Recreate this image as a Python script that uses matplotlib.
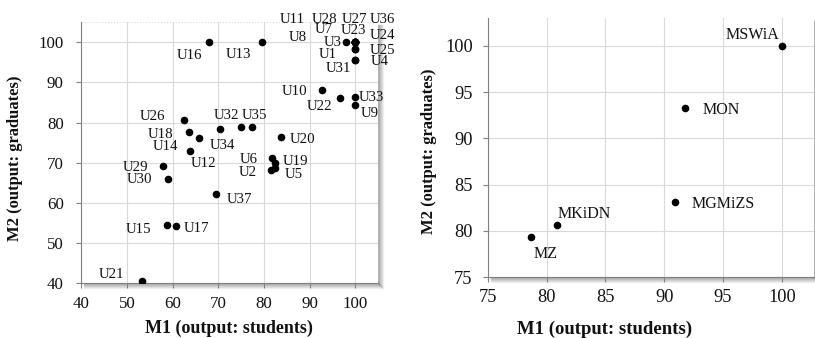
import matplotlib
matplotlib.use("Agg")
import matplotlib.pyplot as plt
from matplotlib.lines import Line2D

plt.rcParams['font.family'] = ['Liberation Serif', 'DejaVu Serif']

# ---- Left chart data (units) ----
units = ["U1", "U2", "U3", "U4", "U5", "U6", "U7", "U8", "U9", "U10",
         "U11", "U12", "U13", "U14", "U15", "U16", "U17", "U18", "U19", "U20",
         "U21", "U22", "U23", "U24", "U25", "U26", "U27", "U28", "U29", "U30",
         "U31", "U32", "U33", "U34", "U35", "U36", "U37"]
m1_units = [100, 81.5, 98, 100, 82.3, 81.7, 100, 100, 100, 92.6,
            100, 65.8, 79.6, 63.7, 58.8, 67.9, 60.8, 63.5, 82.4, 83.7,
            53.3, 96.6, 100, 100, 100, 62.4, 100, 100, 57.9, 58.9,
            100, 75.0, 100, 70.4, 77.4, 100, 69.4]
m2_units = [98.3, 68.2, 100, 95.6, 68.7, 71.1, 100, 100, 84.5, 88.1,
            100, 76.2, 100, 73.0, 54.5, 100, 54.2, 77.6, 70.0, 76.3,
            40.5, 86.1, 100, 100, 98.3, 80.7, 100, 100, 69.3, 66.0,
            95.6, 78.9, 86.3, 78.5, 78.9, 100, 62.3]

# ---- Right chart data (ministries) ----
ministries = ["MSWiA", "MON", "MGMiZS", "MKiDN", "MZ"]
m1_min = [100, 91.8, 90.9, 80.9, 78.65]
m2_min = [100, 93.3, 83.1, 80.7, 79.35]

x_ticks_left = [40, 50, 60, 70, 80, 90, 100]
y_ticks_left = [40, 50, 60, 70, 80, 90, 100]
x_ticks_right = [75, 80, 85, 90, 95, 100]
y_ticks_right = [75, 80, 85, 90, 95, 100]

x_title = "M1 (output: students)"
y_title = "M2 (output: graduates)"

# label offsets in pixels (dx right, dy up) -- styling
off_units = {
    "U16": (-19, -13), "U13": (-24, -12), "U3": (-13, 0), "U8": (-58, 5),
    "U11": (-63, 23), "U28": (-31, 23), "U27": (-1, 23), "U36": (27, 23),
    "U7": (-32, 13), "U23": (-2, 12), "U24": (27, 7), "U25": (27, -1),
    "U1": (-28, -5), "U4": (24, -2), "U31": (-17, -9), "U10": (-27, -1),
    "U22": (-20, -8), "U33": (16, 0), "U9": (14, -9), "U26": (-31, 3),
    "U32": (-15, 12), "U35": (2, 12), "U18": (-28, -2), "U34": (2, -17),
    "U20": (22, -2), "U14": (-24, 4), "U12": (4, -26), "U29": (-28, -2),
    "U30": (-28, -1), "U6": (-23, -1), "U19": (21, 1), "U2": (-23, -2),
    "U5": (19, -6), "U37": (24, -6), "U15": (-29, -4), "U17": (20, -2),
    "U21": (-30, 7),
}
off_min = {"MSWiA": (-29, 11), "MON": (36, -2), "MGMiZS": (48, -2),
           "MKiDN": (27, 11), "MZ": (15, -17)}

W, H = 815, 338
fig = plt.figure(figsize=(W / 100, H / 100), dpi=100)

grid_c = "#d9d9d9"
spine_c = "#808080"
txt_c = "#111111"


def px_axes(l, t, r, b):
    return fig.add_axes([l / W, (H - b) / H, (r - l) / W, (b - t) / H])


def fig_text(x, y, s, **kw):
    fig.text(x / W, (H - y) / H, s, ha="center", va="center",
             color=txt_c, fontweight="bold", **kw)


def shadow(l, t, r, b):
    # soft drop shadow on right and bottom edges (decoration)
    for i in range(6):
        a = 0.28 * (1 - i / 6)
        fig.add_artist(Line2D([(r + i) / W, (r + i) / W],
                              [(H - b - i) / H, (H - t - 3) / H],
                              transform=fig.transFigure, color="black",
                              alpha=a, lw=1, zorder=0))
        fig.add_artist(Line2D([(l + 3) / W, (r + i) / W],
                              [(H - b - i) / H, (H - b - i) / H],
                              transform=fig.transFigure, color="black",
                              alpha=a, lw=1, zorder=0))


def style(ax, xt, yt, fs, ypad, xpad):
    ax.set_xticks(xt)
    ax.set_yticks(yt)
    ax.grid(True, color=grid_c, lw=0.8)
    ax.set_axisbelow(True)
    for s in ["top", "right"]:
        ax.spines[s].set_visible(False)
    ax.spines["left"].set_color(spine_c)
    ax.spines["bottom"].set_color(spine_c)
    ax.tick_params(direction="out", length=3.6, color=spine_c,
                   labelsize=fs, labelcolor=txt_c)
    ax.tick_params(axis="y", pad=ypad)
    ax.tick_params(axis="x", pad=xpad)


# Left chart
axL = px_axes(81.3, 22.2, 378.2, 283.3)
shadow(81.3, 22.2, 378.2, 283.3)
axL.set_xlim(40, 105)
axL.set_ylim(40, 105)
style(axL, x_ticks_left, y_ticks_left, 12.2, 9.0, 5.3)
axL.axhline(105, color=grid_c, lw=0.8, ls=":")
axL.scatter(m1_units, m2_units, s=20, color="black", zorder=3)
for n, x, y in zip(units, m1_units, m2_units):
    dx, dy = off_units[n]
    axL.annotate(n, (x, y), xytext=(dx, dy), textcoords="offset pixels",
                 ha="center", va="center", fontsize=10.7, color=txt_c,
                 annotation_clip=False)
fig_text(229, 328, x_title, fontsize=13)
fig_text(15, 158, y_title, fontsize=12, rotation=90)

# Right chart
axR = px_axes(487.7, 18, 813.7, 277.3)
shadow(487.7, 18, 813.7, 277.3)
axR.set_xlim(75, 102.7)
axR.set_ylim(75, 103)
style(axR, x_ticks_right, y_ticks_right, 13.2, 7.2, 5.0)
axR.scatter(m1_min, m2_min, s=20, color="black", zorder=3)
for n, x, y in zip(ministries, m1_min, m2_min):
    dx, dy = off_min[n]
    axR.annotate(n, (x, y), xytext=(dx, dy), textcoords="offset pixels",
                 ha="center", va="center", fontsize=11.5, color=txt_c,
                 annotation_clip=False)
fig_text(605, 329, x_title, fontsize=13.5)
fig_text(429, 151, y_title, fontsize=12, rotation=90)

fig.savefig("out.png", dpi=100)
